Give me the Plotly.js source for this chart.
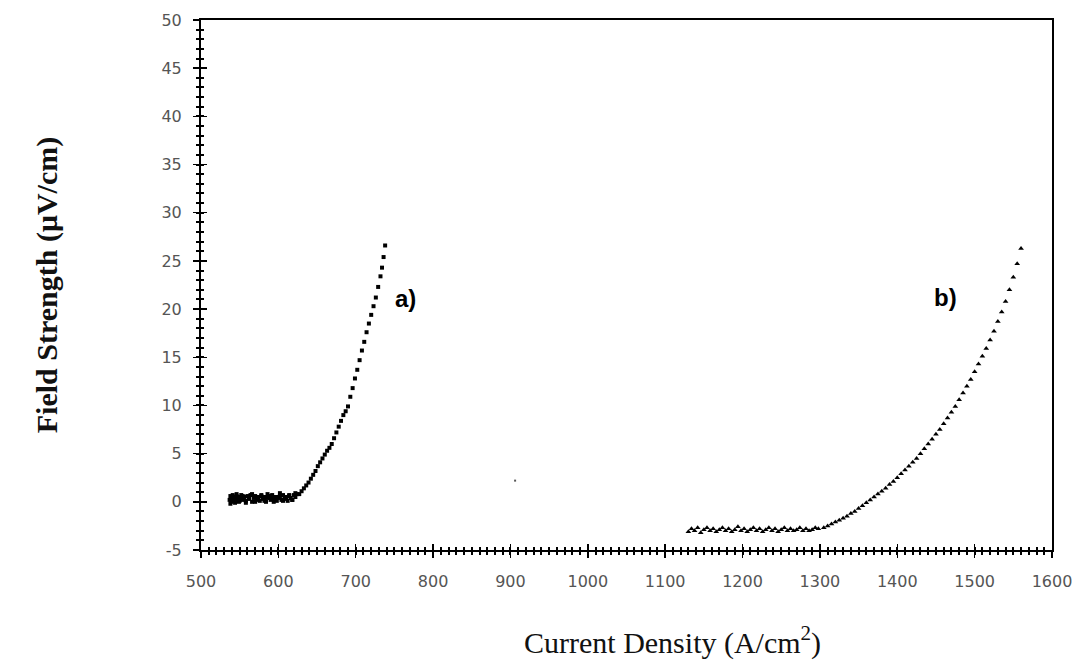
<!DOCTYPE html>
<html>
<head>
<meta charset="utf-8">
<script src="https://cdn.plot.ly/plotly-3.0.1.min.js"></script>
<style>html,body{margin:0;padding:0;background:#fff;}#chart{width:1087px;height:666px;}</style>
</head>
<body>
<div id="chart"></div>
<script>
// Curve a)
const curveA_x = [537,538,539,540,541,542,543,544,545,546,547,548,549,550,552,554,556,558,560,562,564,566,568,570,572,574,576,578,580,582,584,586,588,590,592,594,596,598,600,602,604,606,608,610,612,614,616,618,620,622,624,
  538,542,546,550,554,558,562,566,570,574,578,582,586,590,594,598,602,606,610,614,618,622,
  627,630,633,636,639,642,645,648,651,654,657,660,663,666,669,672,675,678,681,684,687,690,693,696,699,702,705,708,711,714,717,720,723,726,729,732,734,736,738];
const curveA_y = [0.2,0.6,0.0,0.4,0.7,0.1,0.5,-0.1,0.3,0.6,0.2,0.5,0.0,0.4,0.7,0.2,0.5,0.1,0.6,0.3,0.7,0.0,0.4,0.6,0.2,0.5,0.1,0.7,0.3,0.5,0.0,0.4,0.6,0.2,0.7,0.3,0.5,0.1,0.4,0.6,0.2,0.7,0.3,0.5,0.1,0.6,0.4,0.2,0.7,0.5,0.8,
  -0.2,0.3,0.8,0.1,0.6,-0.1,0.4,0.8,0.0,0.3,0.6,0.1,0.8,0.4,0.0,0.5,0.9,0.1,0.4,0.7,0.2,0.9,
  0.8,1.1,1.4,1.7,2.0,2.4,2.8,3.2,3.7,4.1,4.5,4.9,5.3,5.6,6.0,6.6,7.2,7.8,8.4,9.0,9.4,9.9,10.9,11.8,12.8,13.7,14.7,15.7,16.6,17.6,18.5,19.4,20.3,21.2,22.3,23.4,24.3,25.4,26.6];
// Curve b)
const curveB_x = [1130,1134,1138,1142,1146,1150,1154,1158,1162,1166,1170,1174,1178,1182,1186,1190,1194,1198,1202,1206,1210,1214,1218,1222,1226,1230,1234,1238,1242,1246,1250,1254,1258,1262,1266,1270,1274,1278,1282,1286,1290,1294,1298,
  1305,1310,1315,1320,1325,1330,1335,1340,1345,1350,1355,1360,1365,1370,1375,1380,1385,1390,1395,1400,1405,1410,1415,1420,1425,1430,1435,1440,1445,1450,1455,1460,1465,1470,1475,1480,1485,1490,1495,1500,1505,1510,1515,1520,1525,1530,1535,1540,1545,1550,1555,1560];
const curveB_y = [-3.1,-2.8,-3.0,-2.7,-3.2,-2.9,-2.7,-3.0,-2.8,-3.1,-2.9,-2.7,-3.0,-2.8,-3.1,-2.9,-2.6,-3.0,-2.8,-3.1,-2.9,-2.7,-3.0,-2.8,-3.1,-2.9,-2.7,-3.0,-2.8,-3.1,-2.9,-2.7,-3.0,-2.8,-3.0,-2.9,-2.7,-3.0,-2.8,-3.0,-2.9,-2.7,-2.8,
  -2.7,-2.5,-2.3,-2.1,-1.9,-1.7,-1.5,-1.2,-1.0,-0.7,-0.4,-0.1,0.2,0.5,0.8,1.1,1.4,1.8,2.1,2.5,2.9,3.3,3.7,4.1,4.5,5.0,5.5,6.0,6.5,7.0,7.5,8.1,8.7,9.3,9.9,10.6,11.3,12.0,12.7,13.5,14.3,15.1,15.9,16.8,17.7,18.7,19.7,20.8,22.0,23.3,24.7,26.3];
// stray point
const strayX = [906];
const strayY = [2.2];
// labels
const labelText = ['a)', 'b)'];
const labelX = [764, 1462];
const labelY = [21.1, 21.2];

const xTicks = [500,600,700,800,900,1000,1100,1200,1300,1400,1500,1600];
const yTicks = [-5,0,5,10,15,20,25,30,35,40,45,50];

const tickFont = {family:'DejaVu Sans, sans-serif', size:16, color:'#555'};
const markerA = {symbol:'square', size:4, color:'#000'};
const markerB = {symbol:'triangle-up', size:5, color:'#000'};

const traces = [
  {x:curveA_x, y:curveA_y, type:'scatter', mode:'markers', marker:markerA, showlegend:false},
  {x:curveB_x, y:curveB_y, type:'scatter', mode:'markers', marker:markerB, showlegend:false},
  {x:strayX, y:strayY, type:'scatter', mode:'markers', marker:{symbol:'square', size:2, color:'#555'}, showlegend:false},
  // invisible trace on overlay axes so their inside ticks render
  {x:[500], y:[-5], xaxis:'x2', yaxis:'y2', type:'scatter', mode:'markers', marker:{size:1, opacity:0}, showlegend:false, hoverinfo:'skip'}
];

const baseAxis = {showgrid:false, zeroline:false, tickcolor:'#000', tickwidth:1.5};

const layout = {
  width:1087, height:666,
  margin:{l:201, r:35, t:20, b:116},
  paper_bgcolor:'#fff', plot_bgcolor:'#fff',
  xaxis:Object.assign({}, baseAxis, {range:[500,1600], tickvals:xTicks, ticktext:xTicks.map(String),
    showline:true, linecolor:'#000', linewidth:2, mirror:true, ticks:'outside', ticklen:6,
    minor:{dtick:10, ticks:'outside', ticklen:3, tickcolor:'#000', tickwidth:2},
    tickfont:tickFont, ticklabelstandoff:10}),
  yaxis:Object.assign({}, baseAxis, {range:[-5,50], tickvals:yTicks, ticktext:yTicks.map(String),
    showline:true, linecolor:'#000', linewidth:2, mirror:true, ticks:'outside', ticklen:6,
    minor:{dtick:1, ticks:'outside', ticklen:3, tickcolor:'#000', tickwidth:2},
    tickfont:tickFont, ticklabelstandoff:8,
    title:{text:'Field Strength (μV/cm)', font:{family:'Liberation Serif, serif', size:30, color:'#111', weight:'bold'}, standoff:95}}),
  xaxis2:Object.assign({}, baseAxis, {overlaying:'x', range:[500,1600], tickvals:xTicks, showticklabels:false,
    showline:false, ticks:'inside', ticklen:6,
    minor:{dtick:10, ticks:'inside', ticklen:3, tickcolor:'#000', tickwidth:2}}),
  yaxis2:Object.assign({}, baseAxis, {overlaying:'y', range:[-5,50], tickvals:yTicks, showticklabels:false,
    showline:false, ticks:'inside', ticklen:6,
    minor:{dtick:1, ticks:'inside', ticklen:3, tickcolor:'#000', tickwidth:2}}),
  annotations: labelText.map((t,i)=>({x:labelX[i], y:labelY[i], xref:'x', yref:'y', text:'<b>'+t+'</b>', showarrow:false,
    font:{family:'Liberation Sans, sans-serif', size:24, color:'#000'}})).concat([
    {x:0.5, y:0, xref:'paper', yref:'paper', text:'Current Density (A/cm<sup>2</sup>)', showarrow:false,
     xanchor:'center', yanchor:'middle',
     font:{family:'Liberation Serif, serif', size:30, color:'#111'}}
  ])
};
// place x title annotation in pixel-equivalent paper coordinates
const plotW = 1087 - 201 - 35, plotH = 666 - 20 - 116;
layout.annotations[2].x = (672 - 201) / plotW;
layout.annotations[2].y = (666 - 116 - 640) / plotH;

Plotly.newPlot('chart', traces, layout, {displayModeBar:false, staticPlot:true});
</script>
</body>
</html>
